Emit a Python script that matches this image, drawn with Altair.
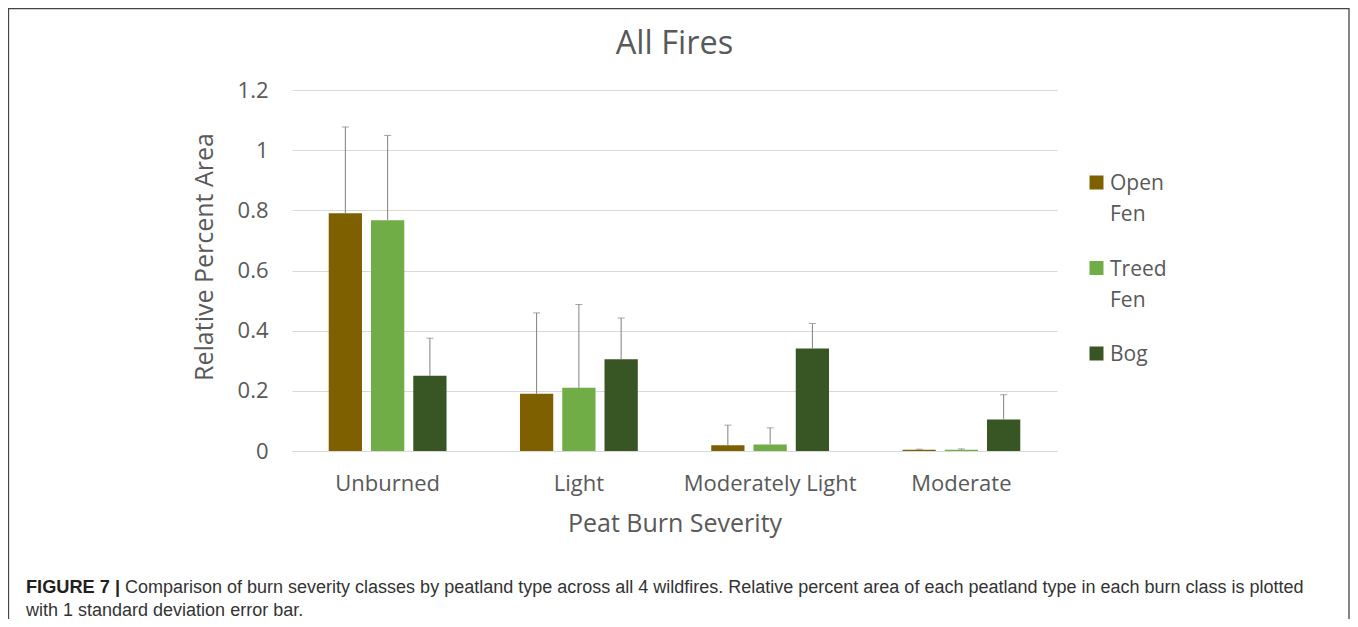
import altair as alt
import pandas as pd

# ---- data ----
CLASSES = ["Unburned", "Light", "Moderately Light", "Moderate"]
TYPES = ["Open Fen", "Treed Fen", "Bog"]
COLORS = ["#7F6000", "#70AD47", "#375623"]

OPEN_FEN = [0.79, 0.19, 0.019, 0.004]
OPEN_FEN_SD = [0.287, 0.269, 0.067, 0.002]
TREED_FEN = [0.767, 0.21, 0.022, 0.004]
TREED_FEN_SD = [0.282, 0.277, 0.055, 0.003]
BOG = [0.25, 0.305, 0.341, 0.105]
BOG_SD = [0.125, 0.137, 0.083, 0.082]

Y_TICKS = [0, 0.2, 0.4, 0.6, 0.8, 1.0, 1.2]

TITLE = "All Fires"
X_TITLE = "Peat Burn Severity"
Y_TITLE = "Relative Percent Area"
CAPTION_BOLD = "FIGURE 7 |"
CAPTION_LINE1 = ("Comparison of burn severity classes by peatland type across all 4 wildfires. "
                 "Relative percent area of each peatland type in each burn class is plotted")
CAPTION_LINE2 = "with 1 standard deviation error bar."

# ---- table ----
rows = []
for t, vals, sds in [("Open Fen", OPEN_FEN, OPEN_FEN_SD),
                     ("Treed Fen", TREED_FEN, TREED_FEN_SD),
                     ("Bog", BOG, BOG_SD)]:
    for c, v, s in zip(CLASSES, vals, sds):
        rows.append({"cls": c, "type": t, "value": v, "upper": v + s})
df = pd.DataFrame(rows)

FONT = "Open Sans"
GRAY = "#595959"
W, H = 765, 361

x_enc = alt.X("cls:N", sort=CLASSES,
              scale=alt.Scale(paddingInner=0.384, paddingOuter=0.192),
              axis=alt.Axis(title=X_TITLE, labelAngle=0, grid=False, domain=True,
                            domainColor="#D9D9D9", domainWidth=1, ticks=False, tickSize=0,
                            labelPadding=22, titleY=80.5, titleBaseline="alphabetic"))
xo_enc = alt.XOffset("type:N", sort=TYPES,
                     scale=alt.Scale(paddingInner=0.213, paddingOuter=0))


def y_enc(field):
    return alt.Y(field, type="quantitative",
                 scale=alt.Scale(domain=[0, 1.2], nice=False, zero=True),
                 axis=alt.Axis(title=Y_TITLE, values=Y_TICKS, format=".1~f", grid=True,
                               gridColor="#D9D9D9", gridWidth=1, domain=False, ticks=False,
                               tickSize=0, labelPadding=24, titleAngle=270,
                               titleX=-80, titleY=166.5, titleAlign="center",
                               titleBaseline="alphabetic"))


base = alt.Chart(df)

bars = base.mark_bar().encode(
    x=x_enc,
    xOffset=xo_enc,
    y=y_enc("value"),
    color=alt.Color("type:N", sort=TYPES,
                    scale=alt.Scale(domain=TYPES, range=COLORS), legend=None),
)

err = base.mark_rule(color="#808080", strokeWidth=1).encode(
    x=x_enc, xOffset=xo_enc, y=y_enc("value"), y2="upper:Q")

caps = base.mark_tick(color="#808080", thickness=1, size=7).encode(
    x=x_enc, xOffset=xo_enc, y=y_enc("upper"))

one = pd.DataFrame({"k": [0]})

# ---- chart title ----
title = alt.Chart(one).mark_text(
    text=TITLE, font=FONT, fontSize=32.5, color=GRAY, align="center",
    baseline="alphabetic").encode(x=alt.value(W / 2), y=alt.value(-36))

# ---- legend (wrapped labels, drawn as a small layer) ----
legend_layers = []
for i, (name, col) in enumerate(zip(TYPES, COLORS)):
    legend_layers.append(
        alt.Chart(one).mark_square(size=196, color=col, opacity=1).encode(
            x=alt.value(804.5), y=alt.value(92.5 + 85.5 * i)))
    legend_layers.append(
        alt.Chart(one).mark_text(text=name.split(" "), font=FONT, fontSize=21, color=GRAY,
                                 align="left", baseline="alphabetic", lineHeight=31).encode(
            x=alt.value(818), y=alt.value(100 + 85.5 * i)))

border = alt.Chart(one).mark_rect(fillOpacity=0, stroke="#444444", strokeWidth=1.3).encode(
    x=alt.value(-283.5), x2=alt.value(1057), y=alt.value(-81.5), y2=alt.value(560))

CAP_FONT = "Liberation Sans"
cap_bold = alt.Chart(one).mark_text(
    text=CAPTION_BOLD, font=CAP_FONT, fontSize=18.2, fontWeight="bold",
    color="#231F20", align="left", baseline="alphabetic").encode(
    x=alt.value(-266), y=alt.value(503))
cap_l1 = alt.Chart(one).mark_text(
    text=CAPTION_LINE1, font=CAP_FONT, fontSize=18.0,
    color="#333333", align="left", baseline="alphabetic").encode(
    x=alt.value(-167), y=alt.value(503))
cap_l2 = alt.Chart(one).mark_text(
    text=CAPTION_LINE2, font=CAP_FONT, fontSize=18.0,
    color="#333333", align="left", baseline="alphabetic").encode(
    x=alt.value(-266), y=alt.value(526))

chart = alt.layer(border, bars, err, caps, title, *legend_layers,
                  cap_bold, cap_l1, cap_l2).properties(
    width=W, height=H,
    autosize=alt.AutoSizeParams(type="none"),
    padding={"left": 284, "top": 82, "right": 293, "bottom": 168},
).configure(background="white").configure_view(stroke=None).configure_axis(
    labelFont=FONT, titleFont=FONT, labelColor=GRAY, titleColor=GRAY,
    labelFontSize=22, titleFontSize=25, titleFontWeight="normal",
)

chart.save("out.html", embed_options={"renderer": "svg", "actions": False})
